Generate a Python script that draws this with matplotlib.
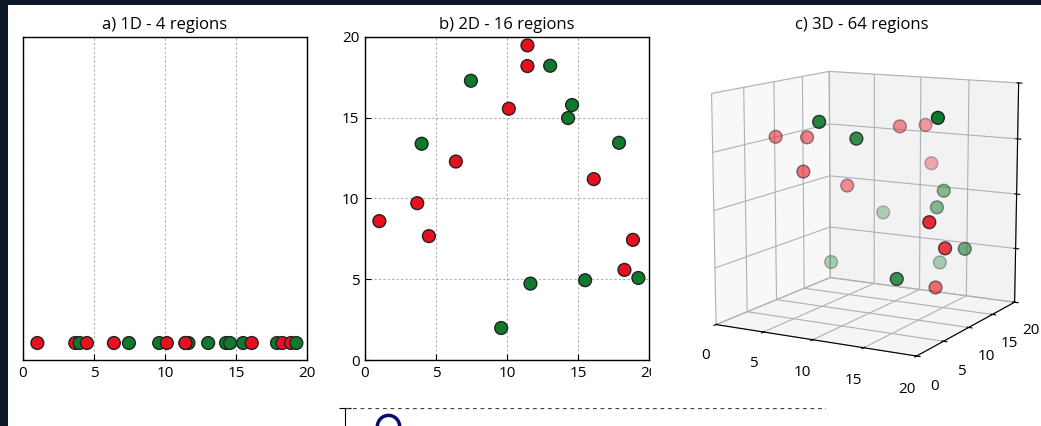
import numpy as np
import matplotlib
matplotlib.use("Agg")
import matplotlib.pyplot as plt
from matplotlib.patches import Rectangle

plt.rcParams['font.family'] = ['Open Sans', 'DejaVu Sans']

# points (same x, y for all three panels; z only used in the 3D one)
pts_x = [9.59, 1.01, 3.68, 3.99, 4.50, 11.65, 11.44, 11.44, 10.13, 15.50,
         16.11, 17.89, 18.27, 18.87, 19.25, 6.40, 7.46, 13.04, 14.30, 14.58]
pts_y = [1.98, 8.60, 9.71, 13.39, 7.67, 4.73, 18.2, 19.48, 15.56, 4.94,
         11.20, 13.45, 5.58, 7.44, 5.08, 12.29, 17.29, 18.22, 14.98, 15.79]
pts_z = [18.0, 15.3, 15.3, 3.3, 12.6, 16.4, 15.9, 12.2, 16.0, 4.8,
         2.8, 6.0, 9.8, 7.3, 18.6, 10.8, 7.6, 3.3, 9.1, 10.5]
pts_cls = [1, 0, 0, 1, 0, 1, 0, 0, 0, 1,
           0, 1, 0, 0, 1, 0, 1, 1, 1, 1]
ticks = [0, 5, 10, 15, 20]

cols = ['#e8101e' if c == 0 else '#0f7a2e' for c in pts_cls]

W, H = 1041, 426
fig = plt.figure(figsize=(W / 100, H / 100), dpi=100, facecolor='#0b1726')
fig.patches.append(Rectangle((8 / W, 0), 1, (H - 5) / H, transform=fig.transFigure,
                             facecolor='white', edgecolor='none', zorder=-10))
# the 3D panel covers the end of panel b's last tick label
fig.patches.append(Rectangle((651 / W, 1 - 385 / H), 40 / W, 25 / H,
                             transform=fig.transFigure, facecolor='white',
                             edgecolor='none', zorder=0.5))

def px(l, t, r, b):
    return [l / W, 1 - b / H, (r - l) / W, (b - t) / H]

# a) 1D
ax1 = fig.add_axes(px(23, 37, 307, 360))
ax1.scatter(pts_x, np.zeros(len(pts_x)), c=cols, s=85, edgecolors='#222222',
            linewidths=1, zorder=3)
ax1.set_xlim(0, 20)
ax1.set_ylim(-0.5, 9)
ax1.set_xticks(ticks)
ax1.set_yticks([])
ax1.grid(True, axis='x', color='#b0b0b0', linestyle=(0, (2, 2)), linewidth=0.8)
ax1.set_title('a) 1D - 4 regions', fontsize=12, pad=6)

# b) 2D
ax2 = fig.add_axes(px(365, 37, 649, 360))
ax2.scatter(pts_x, pts_y, c=cols, s=85, edgecolors='#222222', linewidths=1, zorder=3)
ax2.set_xlim(0, 20)
ax2.set_ylim(0, 20)
ax2.set_xticks(ticks)
ax2.set_yticks(ticks)
ax2.grid(True, color='#b0b0b0', linestyle=(0, (2, 2)), linewidth=0.8)
ax2.set_title('b) 2D - 16 regions', fontsize=12, pad=6)

for ax in (ax1, ax2):
    ax.tick_params(direction='in', length=4, labelsize=11, pad=4)
    for s in ax.spines.values():
        s.set_linewidth(1.0)

# c) 3D
ax3 = fig.add_axes(px(637, 27, 1092, 387), projection='3d')
ax3.set_zorder(1)
ax3.patch.set_alpha(0)
ax3.scatter(pts_x, pts_y, pts_z, c=cols, s=85, edgecolors='#222222',
            linewidths=1, depthshade=True)
ax3.set_xlim(0, 20)
ax3.set_ylim(0, 20)
ax3.set_zlim(0, 20)
ax3.set_xticks(ticks)
ax3.set_yticks(ticks)
ax3.set_zticks(ticks)
ax3.set_proj_type('persp', focal_length=0.8)
ax3.set_box_aspect((1, 1, 1.03), zoom=1.05)
ax3.view_init(elev=11, azim=-61)
ax3.tick_params(labelsize=11)
ax3.zaxis.set_tick_params(pad=12)
ax3.zaxis.set_ticks_position('upper')
fig.text(862 / W, 1 - 25 / H, 'c) 3D - 64 regions', fontsize=12,
         ha='center', va='center')

# bottom: top edge of the next figure, cut off
ax4 = fig.add_axes(px(345, 408, 826, 520))
ax4.set_xlim(0, 10)
ax4.set_ylim(0, 10)
ax4.axhline(10, color='#444444', linestyle=(0, (3, 3)), linewidth=0.9)
ax4.plot([0.9], [8.4], 'o', ms=16, mfc='none', mec='#0a0a6e', mew=2.5)
for k in ('top', 'right', 'bottom'):
    ax4.spines[k].set_visible(False)
ax4.set_xticks([])
ax4.set_yticks([10])
ax4.set_yticklabels([''])
ax4.tick_params(direction='inout', length=8)
ax4.set_facecolor('none')

fig.savefig('out.png', dpi=100, facecolor=fig.get_facecolor())
